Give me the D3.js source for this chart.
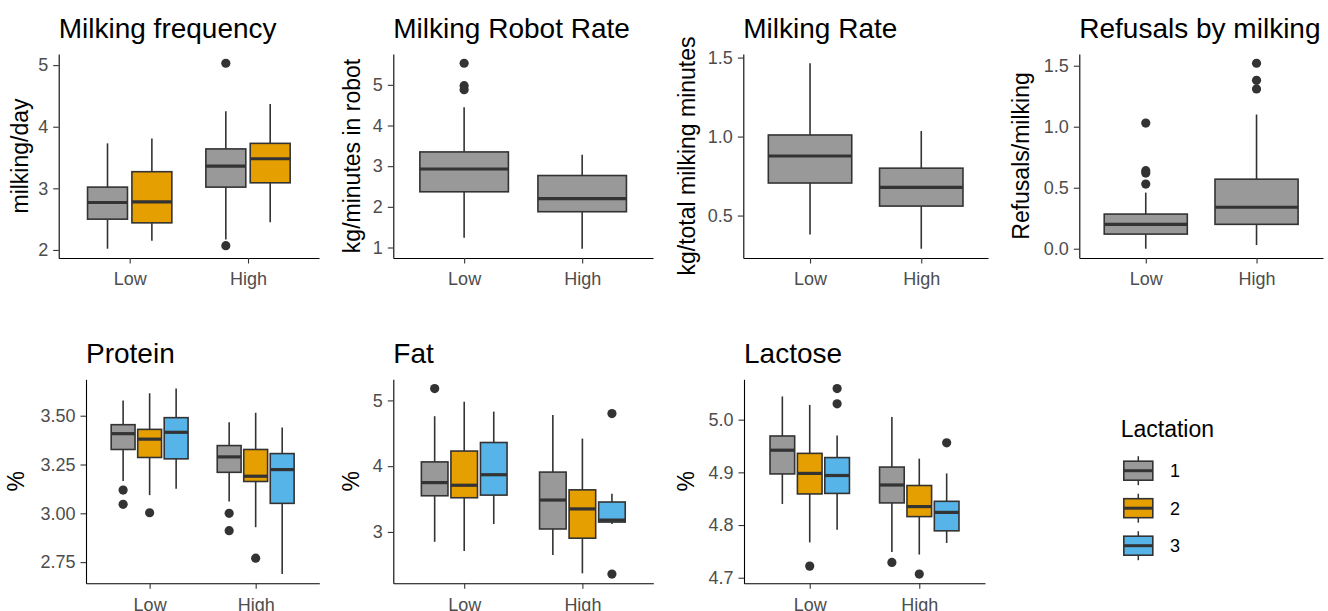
<!DOCTYPE html>
<html>
<head>
<meta charset="utf-8">
<script src="https://cdn.jsdelivr.net/npm/d3@7"></script>
<style>
  body { margin: 0; background: #fff; }
  svg { display: block; font-family: "Liberation Sans", Arial, sans-serif; }
</style>
</head>
<body>
<div id="graphic"></div>
<script>
// categories
const xGroups = ["Low", "High"];
const lactations = ["1", "2", "3"];
const lactColors = ["#999999", "#E69F00", "#56B4E9"];

// box stats: [group, lactation, lower whisker, q1, median, q3, upper whisker, outliers]
const freqBoxes = [
  ["Low", "1", 2.02, 2.50, 2.77, 3.02, 3.73, []],
  ["Low", "2", 2.15, 2.44, 2.78, 3.27, 3.81, []],
  ["High", "1", 2.17, 3.02, 3.36, 3.64, 4.25, [5.03, 2.07]],
  ["High", "2", 2.45, 3.09, 3.48, 3.73, 4.37, []]
];
const robotBoxes = [
  ["Low", "1", 1.24, 2.37, 2.93, 3.35, 4.45, [5.53, 4.98, 4.88]],
  ["High", "1", 0.97, 1.88, 2.20, 2.77, 3.28, []]
];
const rateBoxes = [
  ["Low", "1", 0.38, 0.706, 0.877, 1.01, 1.464, []],
  ["High", "1", 0.29, 0.56, 0.678, 0.80, 1.035, []]
];
const refusalBoxes = [
  ["Low", "1", 0.0, 0.12, 0.20, 0.284, 0.46, [0.53, 0.62, 0.64, 1.03]],
  ["High", "1", 0.03, 0.20, 0.34, 0.57, 1.10, [1.31, 1.38, 1.52]]
];
const proteinBoxes = [
  ["Low", "1", 3.165, 3.327, 3.408, 3.454, 3.578, [3.119, 3.046]],
  ["Low", "2", 3.093, 3.286, 3.38, 3.43, 3.615, [3.003]],
  ["Low", "3", 3.126, 3.279, 3.415, 3.49, 3.639, []],
  ["High", "1", 3.06, 3.21, 3.289, 3.347, 3.467, [3.00, 2.911]],
  ["High", "2", 2.929, 3.163, 3.19, 3.327, 3.515, [2.77]],
  ["High", "3", 2.689, 3.051, 3.224, 3.306, 3.439, []]
];
const fatBoxes = [
  ["Low", "1", 2.85, 3.55, 3.75, 4.065, 4.76, [5.18]],
  ["Low", "2", 2.71, 3.52, 3.71, 4.23, 4.98, []],
  ["Low", "3", 3.12, 3.56, 3.87, 4.36, 4.83, []],
  ["High", "1", 2.65, 3.045, 3.485, 3.91, 4.78, []],
  ["High", "2", 2.37, 2.905, 3.35, 3.64, 4.42, []],
  ["High", "3", 3.12, 3.15, 3.18, 3.455, 3.58, [4.80, 2.36]]
];
const lactoseBoxes = [
  ["Low", "1", 4.84, 4.897, 4.942, 4.969, 5.044, []],
  ["Low", "2", 4.767, 4.859, 4.898, 4.936, 5.028, [4.722]],
  ["Low", "3", 4.791, 4.86, 4.894, 4.928, 4.97, [5.059, 5.03]],
  ["High", "1", 4.749, 4.842, 4.876, 4.91, 5.005, [4.729]],
  ["High", "2", 4.744, 4.816, 4.835, 4.875, 4.926, [4.707]],
  ["High", "3", 4.766, 4.789, 4.824, 4.845, 4.898, [4.956]]
];

// tick values
const freqTicks = [2, 3, 4, 5];
const robotTicks = [1, 2, 3, 4, 5];
const rateTicks = [0.5, 1.0, 1.5];
const refusalTicks = [0.0, 0.5, 1.0, 1.5];
const proteinTicks = [2.75, 3.00, 3.25, 3.50];
const fatTicks = [3, 4, 5];
const lactoseTicks = [4.7, 4.8, 4.9, 5.0];

// panel layout
const panels = [
  { title: "Milking frequency", ylab: "milking/day", boxes: freqBoxes, ticks: freqTicks, fmt: "d", x0: 58.7, x1: 319, y0: 54, y1: 258, ylabX: 21 },
  { title: "Milking Robot Rate", ylab: "kg/minutes in robot", boxes: robotBoxes, ticks: robotTicks, fmt: "d", x0: 393.3, x1: 653, y0: 54, y1: 258, ylabX: 353.5 },
  { title: "Milking Rate", ylab: "kg/total milking minutes", boxes: rateBoxes, ticks: rateTicks, fmt: ".1f", x0: 743.3, x1: 988, y0: 54, y1: 258, ylabX: 688 },
  { title: "Refusals by milking", ylab: "Refusals/milking", boxes: refusalBoxes, ticks: refusalTicks, fmt: ".1f", x0: 1079.3, x1: 1323, y0: 54, y1: 258, ylabX: 1021.7 },
  { title: "Protein", ylab: "%", boxes: proteinBoxes, ticks: proteinTicks, fmt: ".2f", x0: 86, x1: 319.3, y0: 379.3, y1: 583.3, ylabX: 17.5 },
  { title: "Fat", ylab: "%", boxes: fatBoxes, ticks: fatTicks, fmt: "d", x0: 393.3, x1: 653.3, y0: 379.3, y1: 583.3, ylabX: 352.5 },
  { title: "Lactose", ylab: "%", boxes: lactoseBoxes, ticks: lactoseTicks, fmt: ".1f", x0: 744, x1: 985, y0: 379.3, y1: 583.3, ylabX: 687.5 }
];

const W = 1328, H = 611;
const outline = "#333333";

const svg = d3.select("#graphic")
  .append("svg")
  .attr("width", W)
  .attr("height", H);

svg.append("rect").attr("width", W).attr("height", H).attr("fill", "#fff");

const color = d3.scaleOrdinal().domain(lactations).range(lactColors);

panels.forEach(function (p) {
  const g = svg.append("g");

  // y domain from data, expanded 5% like ggplot
  let lo = d3.min(p.boxes, d => d3.min([d[2]].concat(d[7])));
  let hi = d3.max(p.boxes, d => d3.max([d[6]].concat(d[7])));
  const pad = (hi - lo) * 0.05;
  const y = d3.scaleLinear().domain([lo - pad, hi + pad]).range([p.y1, p.y0]);

  const x = d3.scalePoint().domain(xGroups).range([p.x0, p.x1]).padding(0.6);
  const unit = x.step();

  const nLact = d3.max(p.boxes, d => +d[1]);
  const slot = 0.75 / nLact;
  const boxW = nLact === 1 ? 0.75 : slot * 0.9;

  const cx = d => x(d[0]) + (nLact === 1 ? 0 : (-0.375 + slot * (+d[1] - 0.5)) * unit);

  const box = g.selectAll(".box")
    .data(p.boxes)
    .join("g")
    .attr("class", "box");

  // whiskers
  box.append("line")
    .attr("x1", cx).attr("x2", cx)
    .attr("y1", d => y(d[6])).attr("y2", d => y(d[5]))
    .attr("stroke", outline).attr("stroke-width", 1.6);
  box.append("line")
    .attr("x1", cx).attr("x2", cx)
    .attr("y1", d => y(d[3])).attr("y2", d => y(d[2]))
    .attr("stroke", outline).attr("stroke-width", 1.6);

  // box
  box.append("rect")
    .attr("x", d => cx(d) - boxW * unit / 2)
    .attr("width", boxW * unit)
    .attr("y", d => y(d[5]))
    .attr("height", d => y(d[3]) - y(d[5]))
    .attr("fill", d => color(d[1]))
    .attr("stroke", outline).attr("stroke-width", 1.6);

  // median
  box.append("line")
    .attr("x1", d => cx(d) - boxW * unit / 2)
    .attr("x2", d => cx(d) + boxW * unit / 2)
    .attr("y1", d => y(d[4])).attr("y2", d => y(d[4]))
    .attr("stroke", outline).attr("stroke-width", 3.2);

  // outliers
  box.selectAll("circle")
    .data(d => d[7].map(v => [cx(d), v]))
    .join("circle")
    .attr("cx", d => d[0])
    .attr("cy", d => y(d[1]))
    .attr("r", 4.6)
    .attr("fill", outline);

  // axes
  const yAxis = g.append("g")
    .attr("transform", `translate(${p.x0},0)`)
    .call(d3.axisLeft(y).tickValues(p.ticks).tickFormat(d3.format(p.fmt)).tickSizeInner(5.5).tickSizeOuter(0).tickPadding(5));
  const xAxis = g.append("g")
    .attr("transform", `translate(0,${p.y1})`)
    .call(d3.axisBottom(x).tickSizeInner(5.5).tickSizeOuter(0).tickPadding(9));

  [yAxis, xAxis].forEach(function (a) {
    a.select(".domain").attr("stroke", "#000").attr("stroke-width", 1.1);
    a.selectAll(".tick line").attr("stroke", outline).attr("stroke-width", 1.1);
    a.selectAll(".tick text")
      .attr("fill", "#4D4D4D")
      .style("font-size", "18px")
      .style("font-family", "Liberation Sans, Arial, sans-serif");
  });

  // title
  g.append("text")
    .attr("x", p.x0)
    .attr("y", p.y0 - 16.5)
    .attr("fill", "#000")
    .style("font-size", "28px")
    .text(p.title);

  // y label
  g.append("text")
    .attr("transform", `translate(${p.ylabX},${(p.y0 + p.y1) / 2}) rotate(-90)`)
    .attr("text-anchor", "middle")
    .attr("dy", "0.3em")
    .attr("fill", "#000")
    .style("font-size", "23px")
    .text(p.ylab);
});

// legend
const legend = svg.append("g");
legend.append("text")
  .attr("x", 1120.7)
  .attr("y", 437)
  .style("font-size", "23px")
  .attr("fill", "#000")
  .text("Lactation");

const keyY = d3.scalePoint().domain(lactations).range([470.7, 545.7]);
const key = legend.selectAll(".key")
  .data(lactations)
  .join("g")
  .attr("class", "key")
  .attr("transform", d => `translate(1138.3,${keyY(d)})`);

key.append("line")
  .attr("y1", -14.5).attr("y2", 14.5)
  .attr("stroke", outline).attr("stroke-width", 1.5);
key.append("rect")
  .attr("x", -14.5).attr("y", -9.5)
  .attr("width", 29).attr("height", 19)
  .attr("fill", d => color(d))
  .attr("stroke", outline).attr("stroke-width", 1.6);
key.append("line")
  .attr("x1", -14.5).attr("x2", 14.5)
  .attr("stroke", outline).attr("stroke-width", 3);
key.append("text")
  .attr("x", 31.7)
  .attr("dy", "0.36em")
  .style("font-size", "18px")
  .attr("fill", "#000")
  .text(d => d);
</script>
</body>
</html>
